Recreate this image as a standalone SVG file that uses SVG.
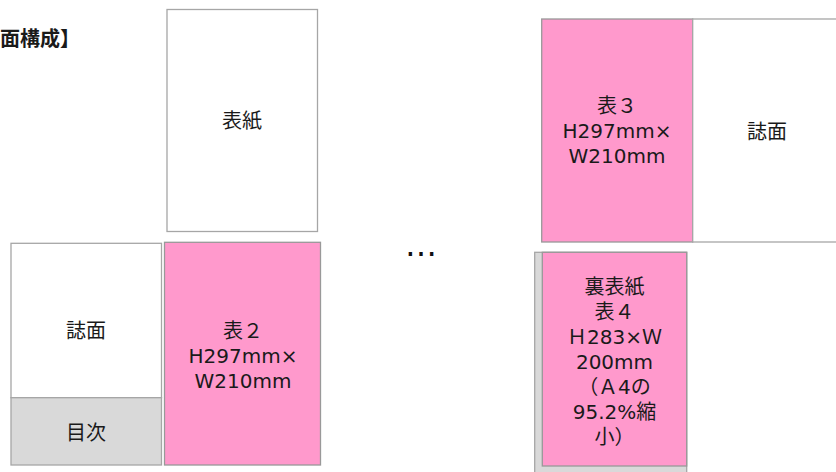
<svg xmlns="http://www.w3.org/2000/svg" width="836" height="472" viewBox="0 0 836 472">
<style>
.t{font-family:"DejaVu Sans","Noto Sans CJK JP",sans-serif;font-size:20px;fill:#1a1a1a;text-anchor:middle}
.w{fill:#ffffff;stroke:#a6a6a6;stroke-width:1.3}
.p{fill:#ff99cc;stroke:#999999;stroke-width:1.3}
.g{fill:#d9d9d9;stroke:#a6a6a6;stroke-width:1.3}
.h{font-family:"Noto Sans CJK JP",sans-serif;font-size:20px;font-weight:bold;fill:#1a1a1a}
</style>
<rect width="836" height="472" fill="#ffffff"/>
<g id="title"><text class="h" x="0" y="46">面構成】</text></g>
<g id="cover">
<rect class="w" x="167" y="9.5" width="150.5" height="222"/>
<text class="t" x="242" y="127.5">表紙</text>
</g>
<g id="page-left">
<rect class="w" x="11" y="243.3" width="150.5" height="154.4"/>
<text class="t" x="86" y="337.5">誌面</text>
</g>
<g id="toc">
<rect class="g" x="11" y="397.7" width="150.5" height="67.3"/>
<text class="t" x="86" y="439.5">目次</text>
</g>
<g id="cover2">
<rect class="p" x="164.5" y="242.3" width="156" height="222.7"/>
<text class="t" x="243" y="338">表２</text>
<text class="t" x="243" y="363">H297mm×</text>
<text class="t" x="243" y="388">W210mm</text>
</g>
<g id="ellipsis">
<text x="421" y="256" style="font-family:'DejaVu Sans',sans-serif;font-size:32px;fill:#111;text-anchor:middle">…</text>
</g>
<g id="cover3">
<rect class="p" x="541.7" y="19" width="151" height="223"/>
<text class="t" x="617" y="113">表３</text>
<text class="t" x="617" y="138">H297mm×</text>
<text class="t" x="617" y="163">W210mm</text>
</g>
<g id="page-right">
<rect class="w" x="692.7" y="19" width="150" height="223"/>
<text class="t" x="767" y="139">誌面</text>
</g>
<g id="back-cover">
<rect class="g" x="534.7" y="252.3" width="152" height="230"/>
<rect class="p" x="542.3" y="252.3" width="144.4" height="213.7"/>
<text class="t" x="614.5" y="294">裏表紙</text>
<text class="t" x="614.5" y="319">表４</text>
<text class="t" x="614.5" y="344">Ｈ283×Ｗ</text>
<text class="t" x="614.5" y="369">200mm</text>
<text class="t" x="614.5" y="394">（Ａ4の</text>
<text class="t" x="614.5" y="419">95.2%縮</text>
<text class="t" x="614.5" y="444">小）</text>
</g>
</svg>
